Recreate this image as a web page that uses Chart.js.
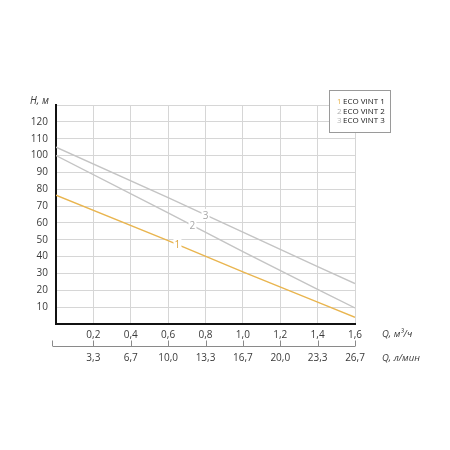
<!DOCTYPE html>
<html>
<head>
<meta charset="utf-8">
<script src="https://cdn.jsdelivr.net/npm/chart.js@4/dist/chart.umd.min.js"></script>
<style>
  html, body { margin: 0; padding: 0; background: #fff; }
  #wrap { width: 450px; height: 450px; }
</style>
</head>
<body>
<div id="wrap"><canvas id="pump"></canvas></div>
<script>
// flow Q, m3/h and head H, m
const flowQ = [0, 0.6, 1.0, 1.4, 1.6];
const headVint1 = [76.5, 49.5, 31, 13, 4];
const headVint2 = [100, 66, 43, 20.5, 9.5];
const headVint3 = [105, 75, 54.5, 34, 24];
const seriesNames = ['ECO VINT 1', 'ECO VINT 2', 'ECO VINT 3'];
const seriesTags = ['1', '2', '3'];
// second axis labels, l/min for each 0.2 m3/h step
const flowLminLabels = ['3,3', '6,7', '10,0', '13,3', '16,7', '20,0', '23,3', '26,7'];

const ORANGE = '#e9b54f';
const GRAY = '#c4c4c4';
const TEXT = '#3a3a3a';
const FONT = '"Open Sans", sans-serif';

const toPts = (ys) => ys.map((y, i) => ({ x: flowQ[i], y: y }));
const comma = (v) => v.toFixed(1).replace('.', ',');

// labels drawn on the curves plus axis titles and the legend box
const decorations = {
  id: 'decorations',
  afterDatasetsDraw(chart) {
    const { ctx, scales } = chart;
    const x = scales.x, y = scales.y, x2 = scales.x2;
    ctx.save();

    // curve numbers
    const tagAt = [0.65, 0.73, 0.8];
    chart.data.datasets.forEach((ds, i) => {
      const q = tagAt[i];
      let h = ds.data[0].y;
      for (let k = 1; k < ds.data.length; k++) {
        const a = ds.data[k - 1], b = ds.data[k];
        if (q >= a.x && q <= b.x) { h = a.y + (b.y - a.y) * (q - a.x) / (b.x - a.x); break; }
      }
      const px = x.getPixelForValue(q), py = y.getPixelForValue(h);
      ctx.fillStyle = '#fff';
      ctx.fillRect(px - 4, py - 6, 8, 12);
      ctx.font = '10px ' + FONT;
      ctx.fillStyle = i === 0 ? '#dca43c' : '#a8a8a8';
      ctx.textAlign = 'center';
      ctx.textBaseline = 'middle';
      ctx.fillText(seriesTags[i], px, py + 1);
    });

    // second flow axis line with ticks pointing up
    const ly = x2.top + 0.5;
    ctx.strokeStyle = '#8a8a8a';
    ctx.lineWidth = 1;
    ctx.beginPath();
    ctx.moveTo(x.left - 3, ly);
    ctx.lineTo(x2.getPixelForValue(1.6), ly);
    ctx.moveTo(x.left - 3.5, ly);
    ctx.lineTo(x.left - 3.5, ly - 6);
    for (let q = 0.2; q <= 1.61; q += 0.2) {
      const px = Math.round(x2.getPixelForValue(q)) + 0.5;
      ctx.moveTo(px, ly);
      ctx.lineTo(px, ly - 6);
    }
    ctx.stroke();

    // axis titles
    ctx.fillStyle = TEXT;
    ctx.textBaseline = 'middle';
    ctx.textAlign = 'left';
    ctx.font = 'italic 10px ' + FONT;
    ctx.fillText('H, м', 30, 101);
    ctx.font = 'italic 9.5px ' + FONT;
    ctx.fillText('Q, м³/ч', 382, 334);
    ctx.fillText('Q, л/мин', 382, 358);

    // legend box
    ctx.fillStyle = '#fff';
    ctx.fillRect(329, 90, 61, 42);
    ctx.strokeStyle = '#9a9a9a';
    ctx.strokeRect(329.5, 90.5, 61, 42);
    ctx.font = '8px ' + FONT;
    seriesNames.forEach((name, i) => {
      const ty = 102 + i * 9.4;
      ctx.fillStyle = i === 0 ? ORANGE : '#b0b0b0';
      ctx.fillText(seriesTags[i], 337, ty);
      ctx.fillStyle = '#222';
      ctx.fillText(name, 343, ty);
    });

    ctx.restore();
  }
};

const chart = new Chart(document.getElementById('pump'), {
  type: 'line',
  data: {
    datasets: [
      { label: seriesNames[0], data: toPts(headVint1), borderColor: ORANGE, borderWidth: 1.4 },
      { label: seriesNames[1], data: toPts(headVint2), borderColor: GRAY, borderWidth: 1.4 },
      { label: seriesNames[2], data: toPts(headVint3), borderColor: GRAY, borderWidth: 1.4 },
    ],
  },
  options: {
    responsive: true,
    maintainAspectRatio: false,
    animation: false,
    elements: { point: { radius: 0 }, line: { tension: 0 } },
    layout: { padding: { left: 0, right: 95, top: 105, bottom: 80 } },
    plugins: { legend: { display: false }, tooltip: { enabled: false } },
    scales: {
      x: {
        type: 'linear', min: 0, max: 1.6,
        afterFit: (s) => { s.height = 22; },
        border: { color: '#111', width: 2 },
        grid: { color: '#d6d6d6', drawTicks: false },
        ticks: {
          stepSize: 0.2, padding: 5, color: TEXT, font: { family: FONT, size: 10 },
          callback: (v) => (v < 0.01 ? '' : comma(v)),
        },
      },
      x2: {
        type: 'linear', position: 'bottom', min: 0, max: 1.6,
        afterFit: (s) => { s.height = 24; },
        border: { display: false },
        grid: { display: false, drawOnChartArea: false, drawTicks: false },
        ticks: {
          stepSize: 0.2, padding: 6, color: TEXT, font: { family: FONT, size: 10 },
          callback: (v) => {
            const i = Math.round(v / 0.2) - 1;
            return i >= 0 ? flowLminLabels[i] : '';
          },
        },
      },
      y: {
        min: 0, max: 130,
        afterFit: (s) => { s.width = 56; },
        border: { color: '#111', width: 2 },
        grid: { color: '#d6d6d6', drawTicks: false },
        ticks: {
          stepSize: 10, padding: 8, color: TEXT, font: { family: FONT, size: 10 },
          callback: (v) => (v === 0 || v === 130 ? '' : v),
        },
      },
    },
  },
  plugins: [decorations],
});
</script>
</body>
</html>
